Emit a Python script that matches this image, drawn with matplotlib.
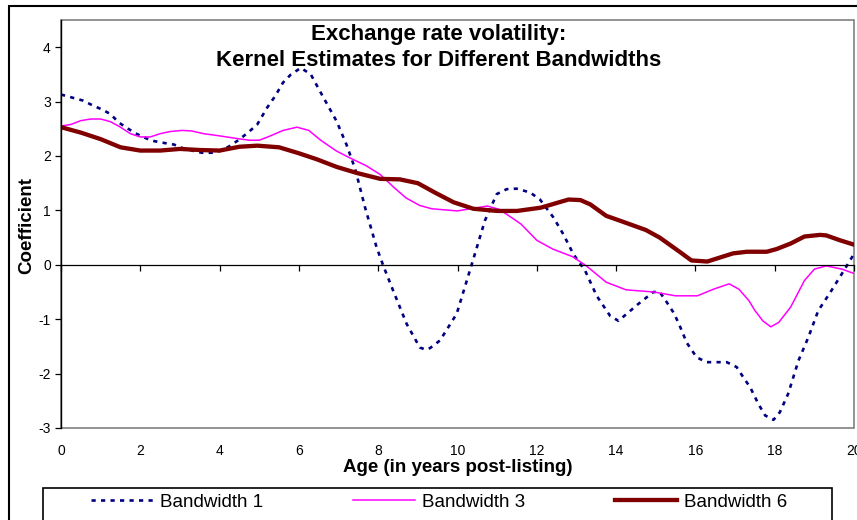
import matplotlib
matplotlib.use("Agg")
import matplotlib.pyplot as plt
from matplotlib.patches import Rectangle

plt.rcParams['font.family'] = ['Liberation Sans', 'DejaVu Sans']
plt.rcParams['axes.unicode_minus'] = False

# kernel estimates, one (age, coefficient) list per bandwidth
age_bw1 = [0, 0.3, 0.55, 0.8, 1.05, 1.25, 1.45, 1.65, 1.9, 2.1, 2.3, 2.6, 2.85, 3.05, 3.3,
           3.55, 3.8, 4.0, 4.25, 4.45, 4.7, 4.95, 5.2, 5.4, 5.6, 5.8, 6.05, 6.3, 6.6, 6.95,
           7.2, 7.42, 7.67, 7.96, 8.13, 8.38, 8.72, 9.05, 9.2, 9.31, 9.56, 9.98, 10.36, 10.69,
           10.99, 11.24, 11.49, 11.83, 12.08, 12.42, 12.67, 12.92, 13.22, 13.51, 13.85, 14.06,
           14.27, 14.56, 14.94, 15.1, 15.28, 15.44, 15.57, 15.78, 16.03, 16.28, 16.79, 17.04,
           17.21, 17.38, 17.59, 17.76, 17.97, 18.13, 18.34, 18.6, 18.85, 19.1, 19.4, 19.69, 20]
coef_bw1 = [3.13, 3.07, 3.02, 2.93, 2.85, 2.77, 2.62, 2.52, 2.41, 2.34, 2.28, 2.24, 2.21, 2.15, 2.1,
            2.06, 2.06, 2.09, 2.18, 2.28, 2.42, 2.58, 2.89, 3.1, 3.35, 3.5, 3.62, 3.5, 3.1, 2.64,
            2.21, 1.76, 1.05, 0.32, -0.02, -0.48, -1.09, -1.52, -1.56, -1.53, -1.39, -0.9, 0.01, 0.81,
            1.3, 1.39, 1.4, 1.33, 1.2, 0.87, 0.56, 0.2, -0.11, -0.57, -0.94, -1.03,
            -0.9, -0.72, -0.5, -0.5, -0.69, -0.87, -1.06, -1.43, -1.7, -1.79, -1.79, -1.88,
            -2.07, -2.25, -2.56, -2.77, -2.85, -2.71, -2.37, -1.76, -1.33, -0.84, -0.51, -0.17, 0.2]

age_bw3 = [0, 0.25, 0.5, 0.75, 1.0, 1.25, 1.5, 1.75, 2.0, 2.25, 2.5, 2.75, 3.05, 3.3, 3.6, 4.0,
           4.45, 4.75, 5.0, 5.25, 5.6, 5.95, 6.25, 6.55, 6.95, 7.3, 7.7, 8.05, 8.4, 8.7, 9.05,
           9.35, 10.0, 10.4, 10.75, 11.05, 11.3, 11.6, 12.0, 12.4, 12.9, 13.25, 13.75, 14.25,
           14.95, 15.5, 16.05, 16.45, 16.85, 17.1, 17.35, 17.5, 17.7, 17.9, 18.1, 18.4, 18.75,
           19.0, 19.3, 19.7, 20]
coef_bw3 = [2.55, 2.58, 2.65, 2.68, 2.68, 2.63, 2.53, 2.41, 2.35, 2.35, 2.41, 2.45, 2.47, 2.46, 2.41, 2.37,
            2.32, 2.29, 2.29, 2.36, 2.47, 2.53, 2.47, 2.29, 2.09, 1.96, 1.82, 1.66, 1.42, 1.23, 1.09,
            1.03, 0.99, 1.04, 1.08, 1.02, 0.9, 0.75, 0.45, 0.29, 0.15, -0.02, -0.32, -0.46,
            -0.5, -0.57, -0.57, -0.45, -0.35, -0.45, -0.66, -0.84, -1.03, -1.14, -1.06, -0.78, -0.29,
            -0.08, -0.02, -0.08, -0.16]

age_bw6 = [0, 0.5, 1.0, 1.5, 2.0, 2.5, 3.0, 3.5, 4.0, 4.5, 4.95, 5.5, 6.0, 6.45, 6.95, 7.45,
           8.05, 8.55, 9.0, 9.45, 9.9, 10.4, 11.0, 11.5, 12.1, 12.8, 13.1, 13.35, 13.75, 14.1,
           14.75, 15.1, 15.6, 15.9, 16.3, 16.95, 17.3, 17.8, 18.05, 18.4, 18.75, 19.15, 19.3,
           19.65, 20]
coef_bw6 = [2.53, 2.43, 2.31, 2.16, 2.1, 2.1, 2.13, 2.11, 2.1, 2.17, 2.19, 2.16, 2.05, 1.94, 1.8, 1.69,
            1.58, 1.57, 1.5, 1.32, 1.15, 1.03, 0.99, 0.99, 1.05, 1.2, 1.19, 1.11, 0.9, 0.81,
            0.64, 0.5, 0.24, 0.08, 0.06, 0.21, 0.24, 0.24, 0.29, 0.39, 0.52, 0.55, 0.54,
            0.45, 0.37]

labels = ["Bandwidth 1", "Bandwidth 3", "Bandwidth 6"]
x_ticks = [0, 2, 4, 6, 8, 10, 12, 14, 16, 18, 20]
y_ticks = [-3, -2, -1, 0, 1, 2, 3, 4]

W, H = 857, 520
fig = plt.figure(figsize=(W / 100, H / 100), dpi=100)
ax = fig.add_axes([61 / W, 1 - 428 / H, (854 - 61) / W, (428 - 20) / H])

l1, = ax.plot(age_bw1, coef_bw1, color='#000080', lw=1.9, linestyle=(0, (1.6, 2.0)))
l3, = ax.plot(age_bw3, coef_bw3, color='#FF00FF', lw=1.1)
l6, = ax.plot(age_bw6, coef_bw6, color='#800000', lw=3.1)

ax.set_xlim(0, 20)
ax.set_ylim(-3, 4.5)
ax.set_xticks(x_ticks)
ax.set_yticks(y_ticks)

# x axis crosses at zero, labels sit at the bottom of the plot area
ax.spines['bottom'].set_position(('data', 0))
ax.spines['bottom'].set_color('black')
ax.spines['bottom'].set_linewidth(0.9)
ax.spines['top'].set_visible(False)
ax.spines['right'].set_visible(False)
ax.spines['left'].set_color('black')
ax.spines['left'].set_linewidth(1.0)
ax.tick_params(axis='x', direction='out', length=4, width=0.9, labelbottom=False)
ax.tick_params(axis='y', direction='out', length=4.3, width=0.9, labelsize=10, pad=3)
ax.add_patch(Rectangle((0, 0), 1, 1, transform=ax.transAxes, fill=False,
                       edgecolor='#808080', lw=1.2, clip_on=False, zorder=0))

sec = ax.secondary_xaxis(0.0)
sec.set_xticks(x_ticks)
sec.tick_params(length=0, labelsize=10, pad=11.5)
sec.spines['bottom'].set_visible(False)

fig.text(439 / W, 1 - 24 / H, "Exchange rate volatility:\nKernel Estimates for Different Bandwidths",
         ha='center', va='top', fontsize=16, fontweight='bold', linespacing=1.3)
fig.text(458 / W, 1 - 467 / H, "Age (in years post-listing)", ha='center', va='center',
         fontsize=13.5, fontweight='bold')
fig.text(27 / W, 1 - 226 / H, "Coefficient", ha='center', va='center', rotation=90,
         fontsize=13.5, fontweight='bold')

# outer chart frame and legend box
fig.patches.append(Rectangle((9 / W, -0.1), 1.2, 1.1 - 6 / H, transform=fig.transFigure,
                             fill=False, edgecolor='black', lw=1.5))
fig.patches.append(Rectangle((43 / W, -0.1), (832 - 43) / W, 0.1 + 1 - 488 / H,
                             transform=fig.transFigure, fill=False, edgecolor='black', lw=1.2))
fig.legend([l1, l3, l6], labels, ncol=3, frameon=False, loc='center left',
           bbox_to_anchor=(91 / W, 1 - 502 / H), borderpad=0, borderaxespad=0,
           handlelength=3.3, handletextpad=0.37, columnspacing=4.8, fontsize=13.5)

fig.savefig("out.png", dpi=100)
